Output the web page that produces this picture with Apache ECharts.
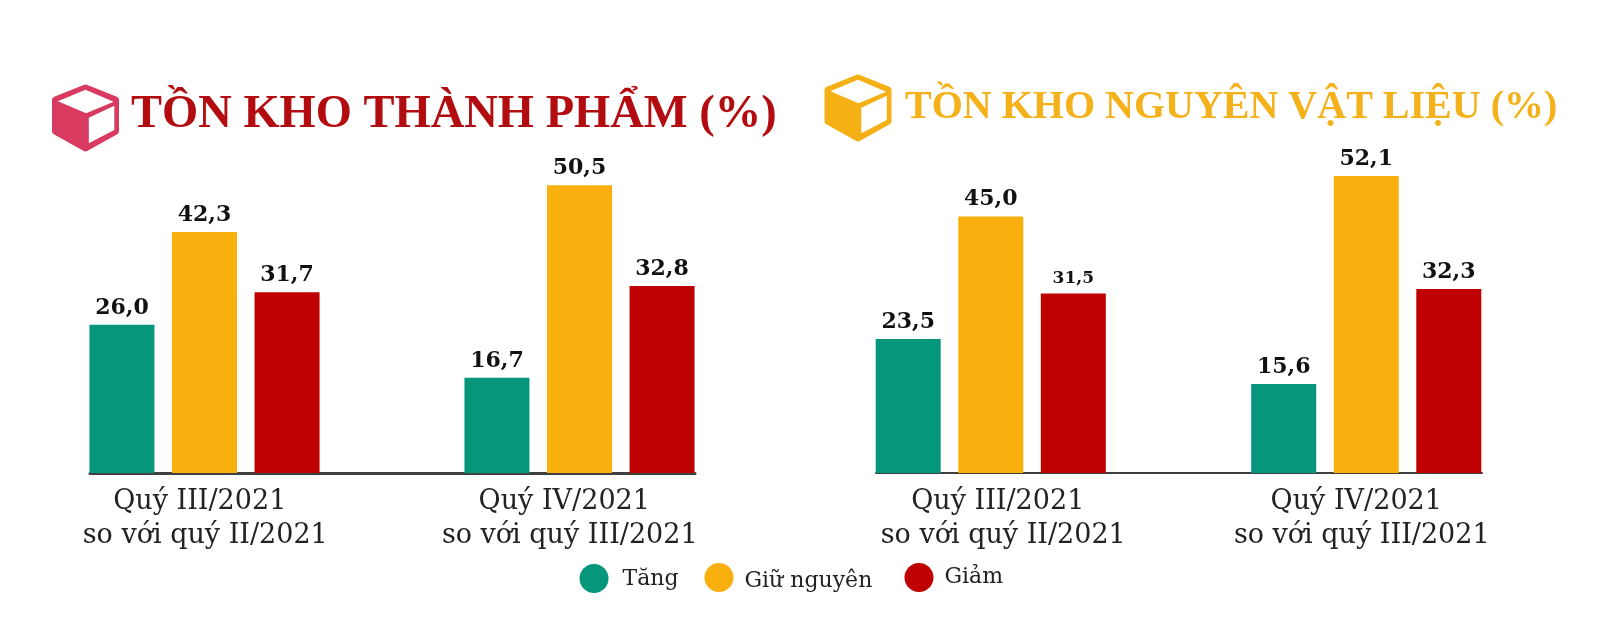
<!DOCTYPE html>
<html>

<head>
<meta charset="utf-8">
<title>Tồn kho</title>
<script src="https://cdn.jsdelivr.net/npm/echarts@6/dist/echarts.min.js"></script>
<style>
html, body { margin: 0; padding: 0; background: #fff; }
#main { width: 1600px; height: 622px; }
</style>
</head>

<body>
<div id="main"></div>
<script type="text/javascript">
const periods = ['Quý III/2021', 'Quý IV/2021'];
const compares = ['so với quý II/2021', 'so với quý III/2021'];
const seriesNames = ['Tăng', 'Giữ nguyên', 'Giảm'];
const seriesColors = ['#05967c', '#f9b00f', '#bf0000'];

const titleFinished = 'TỒN KHO THÀNH PHẨM (%)';
const finishedUp = [26.0, 16.7];
const finishedSame = [42.3, 50.5];
const finishedDown = [31.7, 32.8];

const titleMaterial = 'TỒN KHO NGUYÊN VẬT LIỆU (%)';
const materialUp = [23.5, 15.6];
const materialSame = [45.0, 52.1];
const materialDown = [31.5, 32.3];

const SERIF = '"Liberation Serif", serif';
const WIDE_SERIF = '"DejaVu Serif", serif';
const plotTop = 131, plotH = 342;

// each panel: one grid for the bars, one for the baseline, one for the two-line labels
const panels = [
    { bars: [17, 750], line: [90, 605], labels: [23, 729], lineWidth: 3, values: [finishedUp, finishedSame, finishedDown] },
    { bars: [803, 751], line: [876, 606], labels: [824, 717], lineWidth: 2, values: [materialUp, materialSame, materialDown] }
];

let grid = [], xAxis = [], yAxis = [], series = [];

function addGrid(range, x) {
    let index = grid.length;
    grid.push({ left: range[0], width: range[1], top: plotTop, height: plotH });
    xAxis.push(Object.assign({
        type: 'category', gridIndex: index, data: periods,
        axisTick: { show: false }, axisLine: { show: false }, axisLabel: { show: false }
    }, x));
    yAxis.push({ type: 'value', gridIndex: index, min: 0, max: 60, show: false });
    return index;
}

panels.forEach(p => {
    let barGrid = addGrid(p.bars, {});
    addGrid(p.line, { axisLine: { show: true, lineStyle: { color: '#404040', width: p.lineWidth } } });
    addGrid(p.labels, {
        axisLabel: {
            show: true, margin: 12, interval: 0,
            formatter: (v, i) => '{a|' + v + '}\n{b|' + compares[i] + '}',
            rich: {
                a: { fontFamily: WIDE_SERIF, fontSize: 27, lineHeight: 34, color: '#222', padding: [0, 11, 0, 0] },
                b: { fontFamily: WIDE_SERIF, fontSize: 27, lineHeight: 34, color: '#222' }
            }
        }
    });
    p.values.forEach((vals, s) => {
        series.push({
            name: seriesNames[s],
            type: 'bar',
            xAxisIndex: barGrid,
            yAxisIndex: barGrid,
            barWidth: 65,
            barGap: '27%',
            itemStyle: { color: seriesColors[s] },
            label: {
                show: true, position: 'top', distance: 6,
                fontFamily: WIDE_SERIF, fontWeight: 'bold', fontSize: 22, color: '#111',
                formatter: d => d.value.toFixed(1).replace('.', ',')
            },
            data: vals.slice()
        });
    });
});

// the 31,5 label is set smaller in the original
series[5].data[0] = { value: materialDown[0], label: { fontSize: 17 } };

// the three legend entries sit unevenly in the original, so each gets its own spot
// [left, top, text padding]
const legendSpots = [[579.5, 564, [2, 0, 0, 9]], [704.5, 563, [8, 0, 0, 6]], [904.5, 563, [0, 0, 0, 6]]];
const legend = seriesNames.map((n, i) => ({
    data: [n],
    left: legendSpots[i][0],
    top: legendSpots[i][1],
    padding: 0,
    icon: 'circle',
    itemWidth: 29,
    itemHeight: 29,
    itemGap: 0,
    formatter: '{t|{name}}',
    textStyle: {
        rich: { t: { fontFamily: WIDE_SERIF, fontSize: 22, color: '#222', padding: legendSpots[i][2] } }
    }
}));

function cube(x, y, color) {
    // hexagon body with white top and right faces
    let w = 60, h = 60;
    let P = (a, b) => [x + a * w, y + b * h];
    return [
        { type: 'polygon', shape: { points: [P(.5, 0), P(1, .2), P(1, .72), P(.5, 1), P(0, .72), P(0, .2)] }, style: { fill: color, stroke: color, lineWidth: 7, lineJoin: 'round' } },
        { type: 'polygon', shape: { points: [P(.5, .03), P(.97, .23), P(.51, .42), P(.04, .22)] }, style: { fill: '#fff' } },
        { type: 'polygon', shape: { points: [P(.555, .495), P(.98, .295), P(.98, .7), P(.555, .92)] }, style: { fill: '#fff' } }
    ];
}

var myChart = echarts.init(document.getElementById('main'));
myChart.setOption({
    animation: false,
    backgroundColor: '#fff',
    title: [
        { text: titleFinished, left: 126, top: 86, textStyle: { fontFamily: SERIF, fontWeight: 'bold', fontSize: 46.5, color: '#b30c10' } },
        { text: titleMaterial, left: 900, top: 83, textStyle: { fontFamily: SERIF, fontWeight: 'bold', fontSize: 40, color: '#f4b11a' } }
    ],
    legend: legend,
    grid: grid,
    xAxis: xAxis,
    yAxis: yAxis,
    series: series,
    graphic: cube(55.5, 88, '#d83a60').concat(cube(828, 78, '#f5b016'))
});
</script>
</body>

</html>
